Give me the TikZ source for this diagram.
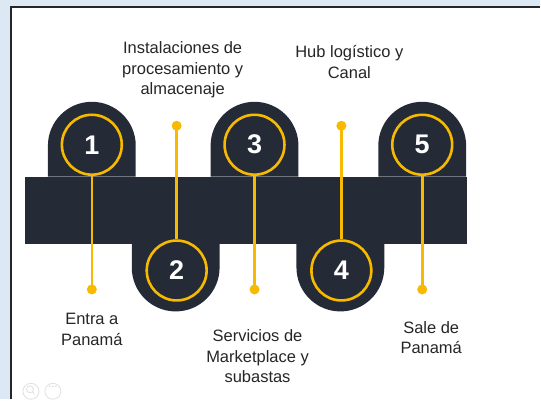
\documentclass[tikz,border=0pt]{standalone}
\usepackage{fontspec}
\setmainfont{Liberation Sans}
\definecolor{bandgray}{HTML}{252B36}
\definecolor{stepgold}{HTML}{F7BA00}
\definecolor{pageblue}{HTML}{DDE8F5}
\tikzset{
  numring/.style={circle, draw=stepgold, line width=2.6pt, minimum size=60pt,
    inner sep=0pt, text=white, font=\fontsize{27}{27}\selectfont\bfseries},
  golddot/.style={circle, fill=stepgold, minimum size=10pt, inner sep=0pt},
  goldline/.style={draw=stepgold, line width=2.6pt},
  caption/.style={align=center, font=\fontsize{16.5}{20.5}\selectfont, text=black!85}
}
\begin{document}
\begin{tikzpicture}[x=1pt, y=-1pt]
    % Page and frame
    \fill[pageblue] (0,0) rectangle (541,400);
    \fill[white] (11,7) rectangle (541,400);
    \draw[black!85, line width=2pt] (11,400) -- (11,7) -- (541,7);
    \useasboundingbox (0,0) rectangle (541,400);

    % Dark band with bumps
    \fill[bandgray] (25,177) rectangle (468,244);
    \fill[bandgray] (48,177) -- (48,146) arc[start angle=180, end angle=360, radius=44] -- (136,177) -- cycle;
    \fill[bandgray] (211,177) -- (211,146) arc[start angle=180, end angle=360, radius=44] -- (299,177) -- cycle;
    \fill[bandgray] (379,177) -- (379,146) arc[start angle=180, end angle=360, radius=44] -- (467,177) -- cycle;
    \fill[bandgray] (132,244) -- (132,268) arc[start angle=180, end angle=0, radius=44] -- (220,244) -- cycle;
    \fill[bandgray] (297,244) -- (297,268) arc[start angle=180, end angle=0, radius=44] -- (385,244) -- cycle;

    % Numbered rings
    \node[numring] (c1) at (92,145) {1};
    \node[numring] (c2) at (177,271) {2};
    \node[numring] (c3) at (255,145) {3};
    \node[numring] (c4) at (342,271) {4};
    \node[numring] (c5) at (423,145) {5};

    % Dots
    \node[golddot] (d1) at (92,290) {};
    \node[golddot] (d2) at (177,126) {};
    \node[golddot] (d3) at (255,290) {};
    \node[golddot] (d4) at (342,126) {};
    \node[golddot] (d5) at (423,290) {};

    % Connectors
    \draw[goldline] (c1) -- (d1.center);
    \draw[goldline] (c2) -- (d2.center);
    \draw[goldline] (c3) -- (d3.center);
    \draw[goldline] (c4) -- (d4.center);
    \draw[goldline] (c5) -- (d5.center);

    % Captions
    \node[caption] (t2) at (183,70) {Instalaciones de\\procesamiento y\\almacenaje};
    \node[caption] (t4) at (350,62) {Hub logístico y\\Canal};
    \node[caption] (t1) at (92,330) {Entra a\\Panamá};
    \node[caption] (t3) at (258,357) {Servicios de\\Marketplace y\\subastas};
    \node[caption] (t5) at (432,338) {Sale de\\Panamá};

    % Faint toolbar icons
    \draw[black!12, line width=0.8pt] (31,392) circle[radius=8];
    \draw[black!12, line width=0.8pt] (30,390) circle[radius=3.5] (32.5,392.5) -- (35,395);
    \draw[black!12, line width=0.8pt] (53,392) circle[radius=8];
    \fill[black!12] (50,387) circle[radius=0.9] (53,387) circle[radius=0.9] (56,387) circle[radius=0.9];
\end{tikzpicture}
\end{document}
